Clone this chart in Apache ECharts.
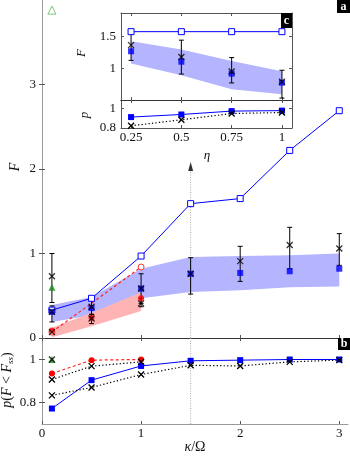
<!DOCTYPE html>
<html><head><meta charset="utf-8">
<script src="https://cdn.jsdelivr.net/npm/echarts@6/dist/echarts.min.js"></script>
<style>html,body{margin:0;padding:0;background:#fff}#c{width:350px;height:456px}</style>
</head><body><div id="c"></div>
<script>
// ---- main panel (F vs kappa/Omega) ----
const xMain = [0.1, 0.5, 1, 1.5, 2, 2.5, 3];
const openSq = [0.33, 0.47, 0.97, 1.59, 1.65, 2.22, 2.69];
const fillSq = [0.31, 0.355, 0.585, 0.76, 0.77, 0.79, 0.82];
const blueBandLo = [0.19, 0.27, 0.47, 0.545, 0.565, 0.6, 0.61];
const blueBandHi = [0.39, 0.485, 0.82, 0.96, 0.97, 0.98, 1.0];
const crossA = [0.31, 0.37, 0.585, 0.76, 0.91, 1.1, 1.06];
const crossALo = [0.19, 0.28, 0.41, 0.52, 0.67, 0.82, 0.86];
const crossAHi = [0.38, 0.45, 0.76, 0.95, 1.085, 1.31, 1.235];
const xRed = [0.1, 0.5, 1];
const redFill = [0.09, 0.24, 0.47];
const redBandLo = [0.01, 0.14, 0.32];
const redBandHi = [0.12, 0.3, 0.54];
const xRedOpen = [0.1, 1];
const redOpen = [0.07, 0.84];
const crossB = [0.07, 0.23, 0.41];
const crossBLo = [0.05, 0.17, 0.37];
const crossBHi = [0.09, 0.28, 0.47];
const xGreen = [0.1];
const greenFill = [0.6];
const crossC = [0.73];
const crossCLo = [0.42];
const crossCHi = [1.0];
const greenOpen = [3.88];
const xMarker = [1.5];
const markerTop = [2.03];
// ---- lower panel p(F<Fss) ----
const pBlue = [0.772, 0.904, 0.97, 0.994, 0.997, 1.0, 1.0];
const pCrossA = [0.833, 0.87, 0.93, 0.973, 0.97, 0.989, 0.997];
const pRed = [0.935, 0.997, 1.0];
const pCrossB = [0.907, 0.969, 0.989];
const pGreen = [1.0];
// ---- inset (vs eta) ----
const eta = [0.25, 0.5, 0.75, 1];
const inOpen = [1.58, 1.58, 1.58, 1.58];
const inFill = [1.27, 1.105, 0.916, 0.774];
const inCross = [1.367, 1.18, 0.95, 0.79];
const inCrossLo = [1.126, 0.91, 0.77, 0.53];
const inCrossHi = [1.58, 1.446, 1.17, 0.97];
const inBandLo = [1.078, 0.89, 0.67, 0.59];
const inBandHi = [1.43, 1.3, 1.115, 0.955];
const inPBlue = [0.913, 0.94, 0.975, 0.98];
const inPCross = [0.823, 0.885, 0.95, 0.96];
// tick values
const mainXTicks = [0, 1, 2, 3];
const mainYTicks = [0, 1, 2, 3];
const pTicks = [0.8, 1];
const etaTicks = [0.25, 0.5, 0.75, 1];
const inFTicks = [1, 1.5];
const inPTicks = [0.8, 1];

const FONT = 'Liberation Serif';
const GRAY = '#9a9a9a', DARK = '#333';
const XSYM = 'path://M0,0L10,10M10,0L0,10';

function zip(xs, ys) { return xs.map((x, i) => [x, ys[i]]); }
function axis(o) {
  const a = {
    type: 'value', gridIndex: o.g, position: o.pos, min: o.min, max: o.max,
    axisLine: { show: true, lineStyle: { color: o.lc || GRAY, width: 1 } },
    axisTick: { show: true, inside: true, length: 3, lineStyle: { color: o.tc || '#555' }, customValues: o.ticks },
    axisLabel: { show: !!o.labels, customValues: o.ticks, fontFamily: FONT, fontSize: 13, color: '#111', margin: o.margin || 4,
      formatter: v => String(v) },
    splitLine: { show: false }
  };
  return a;
}
function band(xs, lo, hi, xi, yi, color, z) {
  return { type: 'custom', xAxisIndex: xi, yAxisIndex: yi, silent: true, z: z,
    data: xs.map((x, i) => [x, lo[i], hi[i]]), encode: { x: 0, y: [1, 2] },
    renderItem: (params, api) => {
      if (params.dataIndex !== 0) return null;
      const pts = [];
      for (let i = 0; i < xs.length; i++) pts.push(api.coord([xs[i], hi[i]]));
      for (let i = xs.length - 1; i >= 0; i--) pts.push(api.coord([xs[i], lo[i]]));
      return { type: 'polygon', shape: { points: pts }, style: { fill: color } };
    } };
}
function errBars(xs, lo, hi, xi, yi) {
  return { type: 'custom', xAxisIndex: xi, yAxisIndex: yi, silent: true, z: 4,
    data: xs.map((x, i) => [x, lo[i], hi[i]]), encode: { x: 0, y: [1, 2] },
    renderItem: (params, api) => {
      const x = api.value(0);
      const a = api.coord([x, api.value(2)]), b = api.coord([x, api.value(1)]);
      const st = { stroke: '#000', lineWidth: 1 };
      return { type: 'group', children: [
        { type: 'line', shape: { x1: a[0], y1: a[1], x2: b[0], y2: b[1] }, style: st },
        { type: 'line', shape: { x1: a[0] - 2.5, y1: a[1], x2: a[0] + 2.5, y2: a[1] }, style: st },
        { type: 'line', shape: { x1: b[0] - 2.5, y1: b[1], x2: b[0] + 2.5, y2: b[1] }, style: st }
      ] };
    } };
}
function scat(data, xi, yi, sym, size, item, z) {
  return { type: 'scatter', xAxisIndex: xi, yAxisIndex: yi, data: data, symbol: sym, symbolSize: size, itemStyle: item, z: z || 5, silent: true };
}
function line(data, xi, yi, sym, size, item, ls, z) {
  return { type: 'line', xAxisIndex: xi, yAxisIndex: yi, data: data, symbol: sym, symbolSize: size, showSymbol: true, showAllSymbol: true,
    itemStyle: item, lineStyle: ls, z: z || 5, silent: true };
}
const blueFill = { color: '#0000ff' };
const blueOpen = { color: '#fff', borderColor: '#0000ff', borderWidth: 1 };
const crossSt = { color: 'none', borderColor: '#000', borderWidth: 1.3 };
const redFillSt = { color: '#ff0000' };
const redOpenSt = { color: '#fff', borderColor: '#ff3333', borderWidth: 1 };
const dotted = { color: '#000', width: 1.2, type: [1.3, 2.2] };
const redDash = { color: '#ff2020', width: 1.2, type: [3, 2.5] };
const blueLine = { color: '#0000ff', width: 1 };

const option = {
  animation: false,
  backgroundColor: '#fff',
  grid: [
    { left: 42, top: 0, width: 306, height: 338 },
    { left: 42, top: 338, width: 306, height: 86 },
    { left: 121, top: 13, width: 171, height: 87, show: true, backgroundColor: '#fff', borderWidth: 0 },
    { left: 121, top: 100, width: 171, height: 28, show: true, backgroundColor: '#fff', borderWidth: 0 }
  ],
  xAxis: [
    axis({ g: 0, pos: 'bottom', min: 0, max: 3.088, ticks: mainXTicks, lc: DARK }),
    axis({ g: 0, pos: 'top', min: 0, max: 3.088, ticks: mainXTicks }),
    axis({ g: 1, pos: 'bottom', min: 0, max: 3.088, ticks: mainXTicks, labels: true, margin: 3 }),
    axis({ g: 1, pos: 'top', min: 0, max: 3.088, ticks: mainXTicks, lc: DARK }),
    axis({ g: 2, pos: 'bottom', min: 0.2, max: 1.05, ticks: etaTicks, lc: DARK }),
    axis({ g: 2, pos: 'top', min: 0.2, max: 1.05, ticks: etaTicks, lc: '#555' }),
    axis({ g: 3, pos: 'bottom', min: 0.2, max: 1.05, ticks: etaTicks, labels: true, lc: '#555', margin: 3 }),
    axis({ g: 3, pos: 'top', min: 0.2, max: 1.05, ticks: etaTicks, lc: DARK })
  ],
  yAxis: [
    axis({ g: 0, pos: 'left', min: 0, max: 4, ticks: mainYTicks, labels: true, margin: 6 }),
    axis({ g: 0, pos: 'right', min: 0, max: 4, ticks: mainYTicks }),
    axis({ g: 1, pos: 'left', min: 0.7, max: 1.1, ticks: pTicks, labels: true, margin: 6 }),
    axis({ g: 1, pos: 'right', min: 0.7, max: 1.1, ticks: pTicks }),
    axis({ g: 2, pos: 'left', min: 0.5, max: 1.875, ticks: inFTicks, labels: true, lc: '#555', margin: 5 }),
    axis({ g: 2, pos: 'right', min: 0.5, max: 1.875, ticks: inFTicks, lc: '#555' }),
    axis({ g: 3, pos: 'left', min: 0.8, max: 1.09, ticks: inPTicks, labels: true, lc: '#555', margin: 5 }),
    axis({ g: 3, pos: 'right', min: 0.8, max: 1.09, ticks: inPTicks, lc: '#555' })
  ],
  series: [
    // main panel
    band(xMain, blueBandLo, blueBandHi, 0, 0, '#b4b4ff', 1),
    band(xRed, redBandLo, redBandHi, 0, 0, '#ffb4b4', 1),
    { type: 'line', xAxisIndex: 0, yAxisIndex: 0, data: [[xMarker[0], 0], [xMarker[0], markerTop[0]]], symbol: 'none',
      lineStyle: { color: '#aaa', width: 1, type: [1, 1.5] }, z: 2, silent: true },
    scat([[xMarker[0], markerTop[0]]], 0, 0, 'triangle', [5, 9], { color: '#000' }, 3),
    { type: 'line', xAxisIndex: 2, yAxisIndex: 2, data: [[xMarker[0], 0.7], [xMarker[0], 1.1]], symbol: 'none',
      lineStyle: { color: '#aaa', width: 1, type: [1, 1.5] }, z: 2, silent: true },
    line(zip(xMain, openSq), 0, 0, 'rect', 6, blueOpen, blueLine, 5),
    line(zip(xRedOpen, redOpen), 0, 0, 'circle', 6, redOpenSt, redDash, 5),
    errBars(xMain, crossALo, crossAHi, 0, 0),
    errBars(xRed, crossBLo, crossBHi, 0, 0),
    errBars(xGreen, crossCLo, crossCHi, 0, 0),
    scat(zip(xMain, fillSq), 0, 0, 'rect', 6, blueFill, 6),
    scat(zip(xRed, redFill), 0, 0, 'circle', 6, redFillSt, 6),
    scat(zip(xGreen, greenFill), 0, 0, 'triangle', 7, { color: '#1a8a1a' }, 6),
    scat(zip(xGreen, greenOpen), 0, 0, 'triangle', 8, { color: '#fff', borderColor: '#5cb85c', borderWidth: 1 }, 6),
    scat(zip(xMain, crossA), 0, 0, XSYM, 6, crossSt, 7),
    scat(zip(xRed, crossB), 0, 0, XSYM, 6, crossSt, 7),
    scat(zip(xGreen, crossC), 0, 0, XSYM, 6, crossSt, 7),
    // lower panel
    line(zip(xMain, pBlue), 2, 2, 'rect', 6, blueFill, blueLine, 5),
    line(zip(xMain, pCrossA), 2, 2, XSYM, 6, crossSt, dotted, 6),
    line(zip(xRed, pRed), 2, 2, 'circle', 6, redFillSt, redDash, 5),
    line(zip(xRed, pCrossB), 2, 2, XSYM, 6, crossSt, dotted, 6),
    scat(zip(xGreen, pGreen), 2, 2, 'triangle', 7, { color: '#1a8a1a' }, 6),
    scat(zip(xGreen, pGreen), 2, 2, XSYM, 6, crossSt, 7),
    // inset F
    band(eta, inBandLo, inBandHi, 4, 4, '#b4b4ff', 3),
    line(zip(eta, inOpen), 4, 4, 'rect', 6, blueOpen, blueLine, 5),
    errBars(eta, inCrossLo, inCrossHi, 4, 4),
    scat(zip(eta, inFill), 4, 4, 'rect', 6, blueFill, 6),
    scat(zip(eta, inCross), 4, 4, XSYM, 6, crossSt, 7),
    // inset p
    line(zip(eta, inPBlue), 6, 6, 'rect', 6, blueFill, blueLine, 5),
    line(zip(eta, inPCross), 6, 6, XSYM, 6, crossSt, dotted, 6)
  ],
  graphic: [
    { type: 'text', x: 15, y: 167, rotation: Math.PI / 2, z: 100,
      style: { text: 'F', font: 'italic 14px "Liberation Serif"', fill: '#111', align: 'center', verticalAlign: 'middle' } },
    { type: 'text', x: 7, y: 380, rotation: Math.PI / 2, z: 100,
      style: { text: '{i|p}{n|(}{i|F}{n| < }{i|F}{s|ss}{n|)}', align: 'center', verticalAlign: 'middle', fill: '#111',
        rich: { i: { font: 'italic 14px "Liberation Serif"', fill: '#111', lineHeight: 16 },
                n: { font: '14px "Liberation Serif"', fill: '#111', lineHeight: 16 },
                s: { font: 'italic 9px "Liberation Serif"', fill: '#111', verticalAlign: 'bottom', lineHeight: 16, padding: [6, 0, 0, 0] } } } },
    { type: 'text', x: 195, y: 447, z: 100,
      style: { text: '{i|κ}{n|/Ω}', align: 'center', verticalAlign: 'middle',
        rich: { i: { font: 'italic 14px "Liberation Serif"', fill: '#111' }, n: { font: '14px "Liberation Serif"', fill: '#111' } } } },
    { type: 'text', x: 82, y: 53, rotation: Math.PI / 2, z: 100,
      style: { text: 'F', font: 'italic 13px "Liberation Serif"', fill: '#111', align: 'center', verticalAlign: 'middle' } },
    { type: 'text', x: 85, y: 115, rotation: Math.PI / 2, z: 100,
      style: { text: 'p', font: 'italic 13px "Liberation Serif"', fill: '#111', align: 'center', verticalAlign: 'middle' } },
    { type: 'text', x: 207, y: 156, z: 100,
      style: { text: 'η', font: 'italic 13px "Liberation Serif"', fill: '#111', align: 'center', verticalAlign: 'middle' } },
    { type: 'rect', shape: { x: 337, y: 0, width: 13, height: 13 }, style: { fill: '#000' }, z: 100 },
    { type: 'text', x: 343.5, y: 6.5, z: 101, style: { text: 'a', font: 'bold 12px "Liberation Serif"', fill: '#fff', align: 'center', verticalAlign: 'middle' } },
    { type: 'rect', shape: { x: 338, y: 338, width: 12, height: 12 }, style: { fill: '#000' }, z: 100 },
    { type: 'text', x: 344, y: 344, z: 101, style: { text: 'b', font: 'bold 12px "Liberation Serif"', fill: '#fff', align: 'center', verticalAlign: 'middle' } },
    { type: 'rect', shape: { x: 281, y: 13, width: 11, height: 15 }, style: { fill: '#000' }, z: 100 },
    { type: 'text', x: 286.5, y: 20.5, z: 101, style: { text: 'c', font: 'bold 12px "Liberation Serif"', fill: '#fff', align: 'center', verticalAlign: 'middle' } }
  ]
};
echarts.init(document.getElementById('c'), null, { renderer: 'canvas' }).setOption(option);
</script>
</body></html>
